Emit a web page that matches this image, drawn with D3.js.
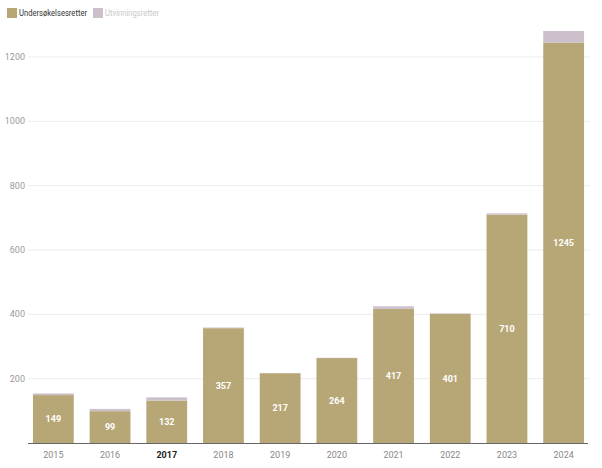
<!DOCTYPE html>
<html><head><meta charset="utf-8">
<script src="https://cdn.jsdelivr.net/npm/d3@7"></script>
<style>body{margin:0;background:#fff;font-family:Roboto,sans-serif;}</style>
</head><body><svg id="c" width="602" height="468"></svg>
<script>
const years = ["2015","2016","2017","2018","2019","2020","2021","2022","2023","2024"];
const undersokelse = [149,99,132,357,217,264,417,401,710,1245];
const utvinning = [5,7,10,2,0,1,8,2,4,36];
const yTicks = [200,400,600,800,1000,1200];
const seriesNames = ["Undersøkelsesretter","Utvinningsretter"];
const colors = ["#b8a776","#cbc0cc"];
const highlight = "2017";

const svg = d3.select("#c");
const x = d3.scaleBand().domain(years).range([25,592]).paddingInner(0.28).paddingOuter(0.14);
const y = d3.scaleLinear().domain([0,1200]).range([443,57]);

// grid
const g = svg.append("g");
g.selectAll("line.grid").data(yTicks).join("line")
  .attr("x1",28).attr("x2",590).attr("y1",d=>y(d)).attr("y2",d=>y(d))
  .attr("stroke","#ececec").attr("stroke-width",1);
g.selectAll("text.yt").data(yTicks).join("text")
  .attr("x",25).attr("y",d=>y(d)).attr("dy","0.35em").attr("text-anchor","end")
  .attr("font-size",9).attr("fill","#9a9a9a").text(d=>d);

// bars
const data = years.map((yr,i)=>({yr,a:undersokelse[i],b:utvinning[i]}));
svg.selectAll("rect.a").data(data).join("rect")
  .attr("x",d=>x(d.yr)).attr("width",x.bandwidth())
  .attr("y",d=>y(d.a)).attr("height",d=>y(0)-y(d.a)).attr("fill",colors[0]);
svg.selectAll("rect.b").data(data.filter(d=>d.b>0)).join("rect")
  .attr("x",d=>x(d.yr)).attr("width",x.bandwidth())
  .attr("y",d=>y(d.a+d.b)).attr("height",d=>y(d.a)-y(d.a+d.b)).attr("fill",colors[1]);
svg.selectAll("text.lab").data(data).join("text")
  .attr("x",d=>x(d.yr)+x.bandwidth()/2).attr("y",d=>(y(d.a)+y(0))/2).attr("dy","0.35em")
  .attr("text-anchor","middle").attr("font-size",9).attr("font-weight","bold").attr("fill","#fff")
  .text(d=>d.a);

// axis baseline
svg.append("line").attr("x1",28).attr("x2",588).attr("y1",y(0)+0.5).attr("y2",y(0)+0.5)
  .attr("stroke","#666").attr("stroke-width",1);
svg.selectAll("text.xt").data(years).join("text")
  .attr("x",d=>x(d)+x.bandwidth()/2).attr("y",455).attr("dy","0.35em").attr("text-anchor","middle")
  .attr("font-size",9).attr("fill",d=>d===highlight?"#222":"#888")
  .attr("font-weight",d=>d===highlight?"bold":"normal").text(d=>d);

// legend
const leg = svg.append("g");
leg.append("rect").attr("x",7).attr("y",8).attr("width",10).attr("height",10).attr("fill",colors[0]);
leg.append("text").attr("x",19).attr("y",13).attr("dy","0.35em").attr("font-size",9)
  .attr("textLength",68).attr("lengthAdjust","spacingAndGlyphs").attr("fill","#333").text(seriesNames[0]);
leg.append("rect").attr("x",93).attr("y",8).attr("width",10).attr("height",10).attr("fill",colors[1]);
leg.append("text").attr("x",105).attr("y",13).attr("dy","0.35em").attr("font-size",9)
  .attr("textLength",54).attr("lengthAdjust","spacingAndGlyphs").attr("fill","#c8c8c8").text(seriesNames[1]);
</script></body></html>
